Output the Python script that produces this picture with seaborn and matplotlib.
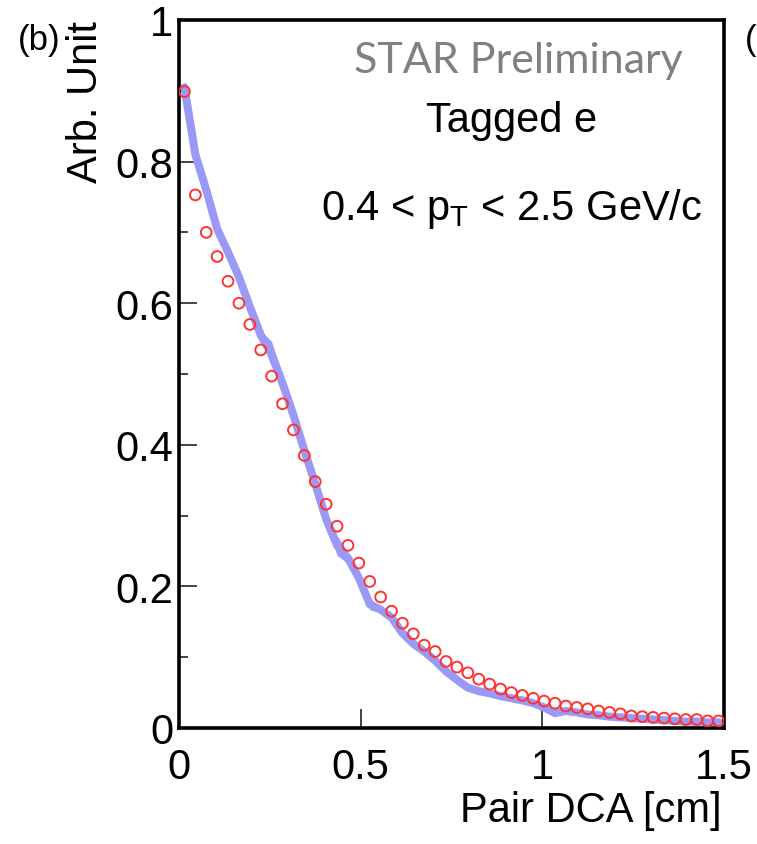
#%%
import numpy as np
import pandas as pd
import matplotlib
matplotlib.use('Agg')
import matplotlib.pyplot as plt
import seaborn as sns

#%%
# bin centres of the pair DCA histogram [cm]
dca = [0.015, 0.045, 0.075, 0.105, 0.135, 0.165, 0.195, 0.225, 0.255, 0.285,
       0.315, 0.345, 0.375, 0.405, 0.435, 0.465, 0.495, 0.525, 0.555, 0.585,
       0.615, 0.645, 0.675, 0.705, 0.735, 0.765, 0.795, 0.825, 0.855, 0.885,
       0.915, 0.945, 0.975, 1.005, 1.035, 1.065, 1.095, 1.125, 1.155, 1.185,
       1.215, 1.245, 1.275, 1.305, 1.335, 1.365, 1.395, 1.425, 1.455, 1.485]

# tagged electrons (open red circles)
tagged = [0.899, 0.753, 0.700, 0.666, 0.631, 0.600, 0.570, 0.534, 0.497, 0.458,
          0.421, 0.385, 0.348, 0.316, 0.285, 0.258, 0.233, 0.207, 0.185, 0.165,
          0.148, 0.133, 0.117, 0.108, 0.094, 0.086, 0.078, 0.069, 0.062, 0.055,
          0.050, 0.046, 0.042, 0.038, 0.035, 0.031, 0.029, 0.027, 0.024, 0.022,
          0.020, 0.017, 0.016, 0.015, 0.014, 0.013, 0.012, 0.012, 0.010, 0.010]

# reference band (blue)
band = [0.905, 0.810, 0.760, 0.705, 0.672, 0.637, 0.595, 0.555, 0.528, 0.487,
        0.442, 0.392, 0.345, 0.295, 0.258, 0.240, 0.212, 0.175, 0.167, 0.156,
        0.134, 0.119, 0.108, 0.095, 0.080, 0.068, 0.057, 0.052, 0.049, 0.045,
        0.042, 0.039, 0.035, 0.029, 0.021, 0.024, 0.022, 0.019, 0.018, 0.016,
        0.015, 0.014, 0.013, 0.012, 0.011, 0.010, 0.009, 0.009, 0.008, 0.008]
band_err = [0.012, 0.006, 0.005, 0.005, 0.005, 0.006, 0.006, 0.006, 0.018, 0.010,
            0.005, 0.005, 0.005, 0.006, 0.014, 0.008, 0.005, 0.008, 0.004, 0.004,
            0.004, 0.004, 0.004, 0.003, 0.003, 0.003, 0.003, 0.003, 0.003, 0.003,
            0.003, 0.003, 0.003, 0.003, 0.003, 0.003, 0.003, 0.003, 0.003, 0.003,
            0.003, 0.003, 0.003, 0.003, 0.003, 0.003, 0.003, 0.003, 0.003, 0.003]

xticks = [0, 0.5, 1, 1.5]
xticklabels = ['0', '0.5', '1', '1.5']
yticks = [0, 0.2, 0.4, 0.6, 0.8, 1]
yticklabels = ['0', '0.2', '0.4', '0.6', '0.8', '1']

df = pd.DataFrame({'dca': dca, 'tagged': tagged, 'band': band, 'err': band_err})

#%%
sns.set_style('ticks')
plt.rcParams['font.family'] = ['Liberation Sans', 'DejaVu Sans']
plt.rcParams['mathtext.fontset'] = 'custom'
plt.rcParams['mathtext.rm'] = 'Liberation Sans'
plt.rcParams['mathtext.it'] = 'Liberation Sans'
plt.rcParams['text.color'] = 'black'
plt.rcParams['axes.labelcolor'] = 'black'
plt.rcParams['xtick.labelcolor'] = 'black'
plt.rcParams['ytick.labelcolor'] = 'black'

blue = '#9a9af6'
red = '#ff3333'

fig = plt.figure(figsize=(7.57, 8.45), dpi=100)
ax = fig.add_axes([179 / 757, 1 - 729 / 845, 545 / 757, 708 / 845])

ax.fill_between(df['dca'], df['band'] - df['err'], df['band'] + df['err'],
                color=blue, lw=0, zorder=1)
sns.lineplot(data=df, x='dca', y='band', ax=ax, color=blue, lw=5.8,
             solid_joinstyle='miter', zorder=2)
sns.scatterplot(data=df, x='dca', y='tagged', ax=ax, marker='o', s=60,
                facecolors='none', edgecolor=red, linewidth=1.4, zorder=3)

ax.set_xlim(0, 1.5)
ax.set_ylim(0, 1)
ax.set_xticks(xticks)
ax.set_xticklabels(xticklabels)
ax.set_yticks(yticks)
ax.set_yticklabels(yticklabels)
ax.set_yticks([0.1, 0.3, 0.5, 0.7, 0.9], minor=True)

for s in ax.spines.values():
    s.set_linewidth(2.6)
    s.set_color('black')

ax.tick_params(axis='both', which='major', direction='in', labelsize=30,
               width=1.4, color='#444444', labelcolor='black')
ax.tick_params(axis='y', which='major', length=13, pad=4)
ax.tick_params(axis='y', which='minor', direction='in', length=6.5,
               width=1.4, color='#444444')
ax.tick_params(axis='x', which='major', length=14, pad=14)

ax.set_xlabel('Pair DCA [cm]', fontsize=30, loc='right')
ax.xaxis.set_label_coords(0.996, -0.087)
ax.set_ylabel('Arb. Unit', fontsize=30, loc='top')
ax.yaxis.set_label_coords(-0.134, 1.0)

ax.text(0.622, 0.9266, 'STAR Preliminary', transform=ax.transAxes,
        ha='center', va='baseline', fontsize=31, color='#808080',
        family=['Lato', 'DejaVu Sans'])
ax.text(0.611, 0.843, 'Tagged e', transform=ax.transAxes,
        ha='center', va='baseline', fontsize=30)
ax.text(0.611, 0.719, r'0.4 < p$_{\mathregular{T}}$ < 2.5 GeV/c',
        transform=ax.transAxes, ha='center', va='baseline', fontsize=30)

fig.text(18 / 757, 1 - 50 / 845, '(b)', fontsize=25, ha='left', va='baseline')
# edge of the neighbouring panel's label
fig.text(745 / 757, 1 - 50 / 845, '(', fontsize=25, ha='left', va='baseline')

fig.savefig('out.png', dpi=100)
